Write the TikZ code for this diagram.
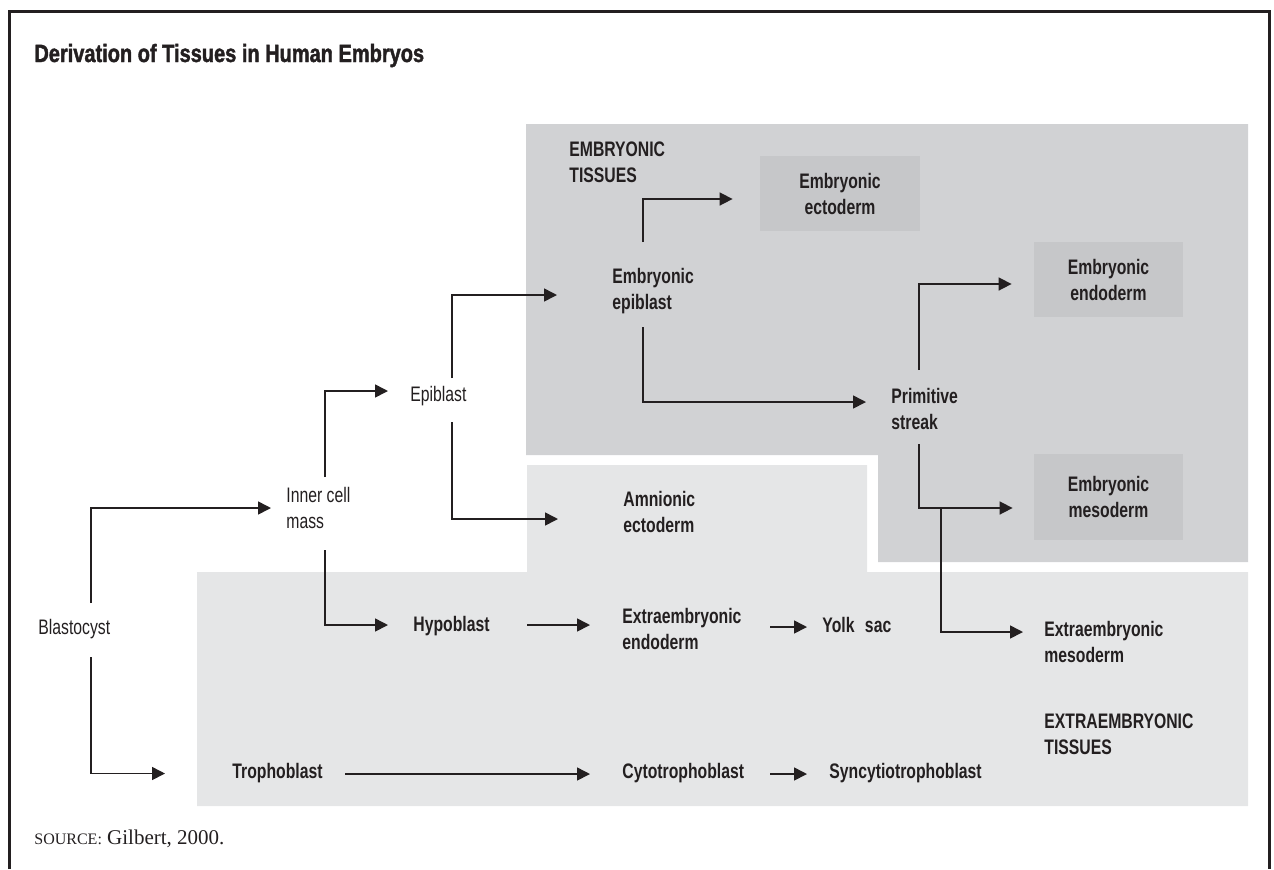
\documentclass[tikz,border=0pt]{standalone}
\usepackage{fontspec}
\setmainfont{Liberation Sans}[FakeStretch=0.75]
\newfontfamily\titlefont{Liberation Sans}[FakeStretch=0.8,BoldFeatures={FakeBold=1.6}]
\newfontfamily\sourcefont{Liberation Serif}
\usepackage{tikz}
\usetikzlibrary{arrows.meta,calc}
\definecolor{ink}{HTML}{231F20}
\definecolor{embgray}{HTML}{D1D2D4}
\definecolor{boxgray}{HTML}{C6C7C9}
\definecolor{extgray}{HTML}{E5E6E7}

\begin{document}
\begin{tikzpicture}[x=0.5pt,y=-0.5pt,
	txt/.style={anchor=west,inner sep=0pt,align=left,text=ink,font=\fontsize{10.5}{13}\selectfont},
	bold/.style={txt,font=\fontsize{10.5}{13}\selectfont\bfseries},
	tissue/.style={fill=boxgray,inner sep=0pt,align=center,text=ink,font=\fontsize{10.5}{13}\selectfont\bfseries},
	arr/.style={draw=ink,line width=0.8pt,-{Triangle[length=6.5pt,width=6.5pt]}}]
		\useasboundingbox (0,0) rectangle (1274,869);
		
		\fill[embgray] (526,124) -- (1248,124) -- (1248,562) -- (878,562) -- (878,455) -- (526,455) -- cycle;
		\fill[extgray] (527,465) -- (867,465) -- (867,572) -- (1248,572) -- (1248,806) -- (197,806) -- (197,572) -- (527,572) -- cycle;
		\draw[ink,line width=1.5pt] (9,869) -- (9,11) -- (1269,11) -- (1269,869);
		
		\node[anchor=base west,inner sep=0pt,text=ink,font=\titlefont\fontsize{12.5}{14}\selectfont\bfseries] (Title) at (34,62) {Derivation of Tissues in Human Embryos};
		
		\node[tissue,minimum width=80pt,minimum height=37.5pt] (Ectoderm) at (840,193.5) {Embryonic\\ectoderm};
		\node[tissue,minimum width=74.5pt,minimum height=37.5pt] (Endoderm) at (1108.5,279.5) {Embryonic\\endoderm};
		\node[tissue,minimum width=74.5pt,minimum height=43pt] (Mesoderm) at (1108.5,497) {Embryonic\\mesoderm};
		
		\node[txt] (Blastocyst) at (38,629.5) {Blastocyst};
		\node[txt] (InnerCell) at (286,508) {Inner cell\\mass};
		\node[txt] (Epiblast) at (410,396.5) {Epiblast};
		\node[bold] (Hypoblast) at (413,626.5) {Hypoblast};
		\node[bold] (Trophoblast) at (232,773.5) {Trophoblast};
		\node[bold] (Cytotrophoblast) at (622,773.5) {Cytotrophoblast};
		\node[bold] (Syncytio) at (829,773.5) {Syncytiotrophoblast};
		\node[bold] (ExtraEndoderm) at (622,629) {Extraembryonic\\endoderm};
		\node[bold] (YolkSac) at (822,625.3) {Yolk\enspace sac};
		\node[bold] (EmbEpiblast) at (612,291) {Embryonic\\epiblast};
		\node[bold] (Amnion) at (623,512) {Amnionic\\ectoderm};
		\node[bold] (Streak) at (891,409) {Primitive\\streak};
		\node[bold] (ExtraMesoderm) at (1044,642) {Extraembryonic\\mesoderm};
		\node[bold] (EmbTissues) at (569,162) {EMBRYONIC\\TISSUES};
		\node[bold] (ExtraTissues) at (1044,734) {EXTRAEMBRYONIC\\TISSUES};
		
		\node[anchor=base west,inner sep=0pt,text=ink,font=\sourcefont\fontsize{10.5}{13}\selectfont] (Source) at (34,844) {{\fontsize{8}{10}\selectfont SOURCE:} Gilbert, 2000.};
		
		\draw[arr] ($(Blastocyst.west)+(53,-26.5)$) |- ($(InnerCell.west)+(-15,0)$);
		\draw[arr] ($(Blastocyst.west)+(53,27.5)$) |- ($(Trophoblast.west)+(-67,0)$);
		\draw[arr] ($(InnerCell.west)+(39,-31)$) |- ($(Epiblast.west)+(-22,-5.5)$);
		\draw[arr] ($(InnerCell.west)+(39,42)$) |- ($(Hypoblast.west)+(-25,-1.5)$);
		\draw[arr] ($(Epiblast.west)+(42,-18.5)$) |- ($(EmbEpiblast.west)+(-55,4)$);
		\draw[arr] ($(Epiblast.west)+(42,25.5)$) |- ($(Amnion.west)+(-65,7)$);
		\draw[arr] ($(Hypoblast.west)+(114,-1.5)$) -- ($(ExtraEndoderm.west)+(-32,-4)$);
		\draw[arr] ($(ExtraEndoderm.west)+(148,-2)$) -- ($(YolkSac.west)+(-15,1.7)$);
		\draw[arr] ($(Trophoblast.west)+(113,0.5)$) -- ($(Cytotrophoblast.west)+(-32,0.5)$);
		\draw[arr] ($(Cytotrophoblast.west)+(148,0.5)$) -- ($(Syncytio.west)+(-22,0.5)$);
		\draw[arr] ($(EmbEpiblast.west)+(31,-49)$) |- ($(Ectoderm.west)+(-27,5.5)$);
		\draw[arr] ($(EmbEpiblast.west)+(31,36)$) |- ($(Streak.west)+(-25,-7)$);
		\draw[arr] ($(Streak.west)+(28,-39)$) |- ($(Endoderm.west)+(-22,4.5)$);
		\draw[arr] ($(Streak.west)+(28,35)$) |- ($(Mesoderm.west)+(-21,11)$);
		\coordinate (Split) at ($(Streak.west)+(50,99)$);
		\draw[arr] (Split) |- ($(ExtraMesoderm.west)+(-21,-10)$);
		
	\end{tikzpicture}
\end{document}
